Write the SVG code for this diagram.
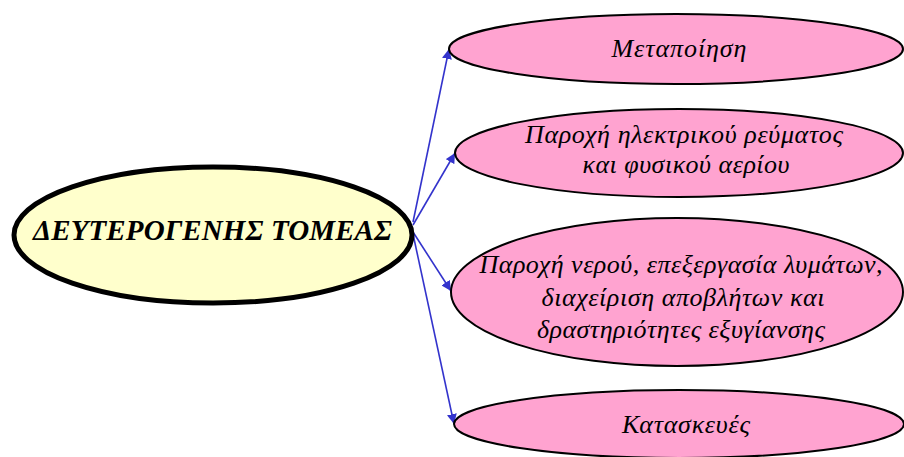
<svg xmlns="http://www.w3.org/2000/svg" width="904" height="457" viewBox="0 0 904 457">
<defs>
<marker id="ah" viewBox="0 0 10 10" refX="10" refY="5" markerWidth="10" markerHeight="10" markerUnits="userSpaceOnUse" orient="auto">
<path d="M0,0 L10,5 L0,10 z" fill="#3333cc"/>
</marker>
<style>
.leaf{fill:#ffa3d0;stroke:#000;stroke-width:2}
.lt{font-family:"Liberation Serif","DejaVu Serif",serif;font-style:italic;font-size:26px;fill:#000;text-anchor:middle}
.conn{stroke:#3333cc;stroke-width:1.6;fill:none;marker-end:url(#ah)}
</style>
</defs>
<rect width="904" height="457" fill="#fff"/>
<g id="connectors">
<line class="conn" x1="413" y1="222" x2="449" y2="49"/>
<line class="conn" x1="413" y1="225" x2="455" y2="153"/>
<line class="conn" x1="413" y1="232" x2="451" y2="291"/>
<line class="conn" x1="413" y1="234" x2="454" y2="424"/>
</g>
<g id="root">
<ellipse cx="213" cy="235" rx="199" ry="68" fill="#ffffcc" stroke="#000" stroke-width="5"/>
<text x="212.5" y="240" font-family="'Liberation Serif','DejaVu Serif',serif" font-style="italic" font-weight="bold" font-size="29" text-anchor="middle" textLength="359">ΔΕΥΤΕΡΟΓΕΝΗΣ ΤΟΜΕΑΣ</text>
</g>
<g id="n1">
<ellipse class="leaf" cx="676" cy="49" rx="227" ry="35"/>
<text class="lt" x="679" y="57" textLength="135">Μεταποίηση</text>
</g>
<g id="n2">
<ellipse class="leaf" cx="679" cy="153" rx="224" ry="44"/>
<text class="lt" x="684" y="143" textLength="318">Παροχή ηλεκτρικού ρεύματος</text>
<text class="lt" x="686" y="173" textLength="207">και φυσικού αερίου</text>
</g>
<g id="n3">
<ellipse class="leaf" cx="677" cy="292" rx="226" ry="74"/>
<text class="lt" x="681" y="273" textLength="403">Παροχή νερού, επεξεργασία λυμάτων,</text>
<text class="lt" x="683" y="306" textLength="283">διαχείριση αποβλήτων και</text>
<text class="lt" x="681" y="338" textLength="288">δραστηριότητες εξυγίανσης</text>
</g>
<g id="n4">
<ellipse class="leaf" cx="679" cy="424" rx="225" ry="34"/>
<text class="lt" x="686" y="433" textLength="128">Κατασκευές</text>
</g>
</svg>
